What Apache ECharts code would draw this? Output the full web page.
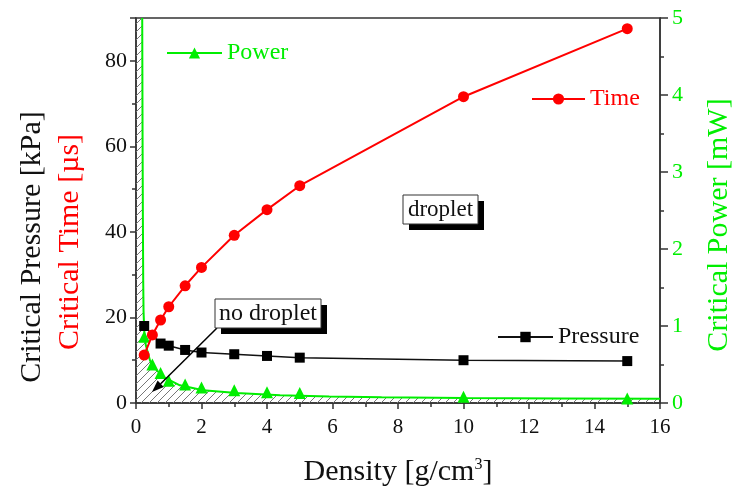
<!DOCTYPE html>
<html>
<head>
<meta charset="utf-8">
<script src="https://cdn.jsdelivr.net/npm/echarts@6/dist/echarts.min.js"></script>
<style>
  html, body { margin: 0; padding: 0; background: #fff; }
  #chart { width: 733px; height: 491px; }
</style>
</head>
<body>
<div id="chart"></div>
<script>
// measured points
var density = [0.25, 0.5, 0.75, 1, 1.5, 2, 3, 4, 5, 10, 15];
var timeUs = [11.2, 15.9, 19.4, 22.5, 27.4, 31.7, 39.2, 45.2, 50.8, 71.6, 87.5];
var powerMW = [0.86, 0.50, 0.39, 0.29, 0.24, 0.20, 0.165, 0.14, 0.13, 0.08, 0.06];
var pressureX = [0.25, 0.75, 1, 1.5, 2, 3, 4, 5, 10, 15];
var pressureKPa = [18.0, 13.9, 13.4, 12.4, 11.8, 11.4, 11.0, 10.6, 10.0, 9.8];

// fitted power curve
var fitX = [0.19, 0.2, 0.21, 0.22, 0.23, 0.25, 0.3, 0.43, 0.6, 0.83, 1.34, 2.05, 3.07, 4.4, 5.9, 7.5, 10, 13, 16];
var fitP = [5.0, 3.5, 2.4, 1.6, 1.2, 0.95, 0.75, 0.55, 0.44, 0.34, 0.23, 0.165, 0.13, 0.10, 0.085, 0.075, 0.065, 0.06, 0.055];

var xTicks = [0, 2, 4, 6, 8, 10, 12, 14, 16];

var GREEN = '#00ee00';
var RED = '#ff0000';
var FONT = '"Liberation Serif", "DejaVu Serif", serif';

function pairs(xs, ys) {
  return xs.map(function (x, i) { return [x, ys[i]]; });
}

var fitData = pairs(fitX, fitP);
var hatchData = [[0, fitP[0]]].concat(fitData);

// diagonal hatch pattern for the "no droplet" region
var pat = document.createElement('canvas');
pat.width = 8; pat.height = 8;
var pc = pat.getContext('2d');
pc.strokeStyle = '#777';
pc.lineWidth = 1;
pc.beginPath();
pc.moveTo(0, 8); pc.lineTo(8, 0);
pc.moveTo(-4, 4); pc.lineTo(4, -4);
pc.moveTo(4, 12); pc.lineTo(12, 4);
pc.stroke();

var chart = echarts.init(document.getElementById('chart'));

var axisCol = '#333';

chart.setOption({
  animation: false,
  grid: {
    left: 136, right: 73, top: 18, bottom: 88,
    show: true, borderColor: axisCol, borderWidth: 1.5
  },
  legend: [
    {
      data: ['Power'], left: 166, top: 41, padding: 0,
      itemWidth: 55, itemHeight: 14,
      textStyle: { color: GREEN, fontSize: 24, fontFamily: FONT }
    },
    {
      data: ['Time'], left: 531, top: 87, padding: 0,
      itemWidth: 53, itemHeight: 14,
      textStyle: { color: RED, fontSize: 24, fontFamily: FONT }
    },
    {
      data: ['Pressure'], left: 497, top: 325, padding: 0,
      itemWidth: 55, itemHeight: 13,
      textStyle: { color: '#111', fontSize: 24, fontFamily: FONT }
    }
  ],
  xAxis: {
    type: 'value', min: 0, max: 16, interval: 2,
    axisLine: { lineStyle: { color: axisCol, width: 1.5 } },
    axisTick: { length: 6, lineStyle: { color: axisCol, width: 1.5 } },
    minorTick: { show: true, splitNumber: 2, length: 4, lineStyle: { color: axisCol, width: 1.5 } },
    splitLine: { show: false },
    axisLabel: {
      color: '#111', fontSize: 21, fontFamily: FONT, margin: 14,
      formatter: function (v) { return xTicks.indexOf(v) >= 0 ? String(v) : ''; }
    }
  },
  yAxis: [
    {
      type: 'value', min: 0, max: 90, interval: 20, position: 'left',
      axisLine: { show: true, lineStyle: { color: axisCol, width: 1.5 } },
      axisTick: { show: true, length: 6, lineStyle: { color: axisCol, width: 1.5 } },
      minorTick: { show: true, splitNumber: 2, length: 4, lineStyle: { color: axisCol, width: 1.5 } },
      splitLine: { show: false },
      axisLabel: { color: '#111', fontSize: 22, fontFamily: FONT, margin: 9, showMaxLabel: false }
    },
    {
      type: 'value', min: 0, max: 5, interval: 1, position: 'right',
      axisLine: { show: true, lineStyle: { color: axisCol, width: 1.5 } },
      axisTick: { show: true, length: 8, lineStyle: { color: axisCol, width: 1.5 } },
      minorTick: { show: true, splitNumber: 2, length: 4, lineStyle: { color: axisCol, width: 1.5 } },
      splitLine: { show: false },
      axisLabel: { color: GREEN, fontSize: 22, fontFamily: FONT, margin: 12 }
    }
  ],
  series: [
    {
      name: 'hatch', type: 'line', yAxisIndex: 1, data: hatchData,
      symbol: 'none', silent: true, z: 1,
      lineStyle: { width: 0, opacity: 0 },
      areaStyle: { color: { image: pat, repeat: 'repeat' }, opacity: 1 }
    },
    {
      name: 'Power', type: 'line', yAxisIndex: 1, data: fitData,
      symbol: 'triangle', showSymbol: false, z: 2,
      itemStyle: { color: GREEN },
      lineStyle: { color: GREEN, width: 2 }
    },
    {
      name: 'Pressure', type: 'line', yAxisIndex: 0, data: pairs(pressureX, pressureKPa),
      symbol: 'rect', symbolSize: 10, z: 3,
      itemStyle: { color: '#000' },
      lineStyle: { color: '#111', width: 1.5 }
    },
    {
      name: 'power points', type: 'line', yAxisIndex: 1, data: pairs(density, powerMW),
      symbol: 'triangle', symbolSize: 12, z: 4,
      itemStyle: { color: GREEN },
      lineStyle: { width: 0, opacity: 0 }
    },
    {
      name: 'Time', type: 'line', yAxisIndex: 0, data: pairs(density, timeUs),
      symbol: 'circle', symbolSize: 11, z: 5,
      itemStyle: { color: RED },
      lineStyle: { color: RED, width: 2 }
    }
  ],
  graphic: [
    // axis titles
    {
      type: 'text', x: 32, y: 247, rotation: Math.PI / 2, z: 100,
      style: { text: 'Critical Pressure [kPa]', fill: '#111', font: '30px ' + FONT, align: 'center', verticalAlign: 'middle' }
    },
    {
      type: 'text', x: 70, y: 242, rotation: Math.PI / 2, z: 100,
      style: { text: 'Critical Time [µs]', fill: RED, font: '30px ' + FONT, align: 'center', verticalAlign: 'middle' }
    },
    {
      type: 'text', x: 719, y: 225, rotation: Math.PI / 2, z: 100,
      style: { text: 'Critical Power [mW]', fill: GREEN, font: '30px ' + FONT, align: 'center', verticalAlign: 'middle' }
    },
    {
      type: 'text', x: 398, y: 472, z: 100,
      style: {
        text: '{a|Density [g/cm}{s|3}{a|]}', align: 'center', verticalAlign: 'middle',
        rich: {
          a: { fontSize: 30, fontFamily: FONT, fill: '#111', color: '#111' },
          s: { fontSize: 16, fontFamily: FONT, fill: '#111', color: '#111', verticalAlign: 'top', padding: [0, 0, 14, 0] }
        }
      }
    },
    // "droplet" label
    { type: 'rect', z: 100, shape: { x: 409, y: 201, width: 75, height: 29 }, style: { fill: '#000' } },
    { type: 'rect', z: 101, shape: { x: 403, y: 195, width: 75, height: 29 }, style: { fill: '#fff', stroke: '#333', lineWidth: 1 } },
    {
      type: 'text', z: 102, x: 440.5, y: 209.5,
      style: { text: 'droplet', fill: '#111', font: '23px ' + FONT, align: 'center', verticalAlign: 'middle' }
    },
    // "no droplet" label with arrow
    { type: 'rect', z: 100, shape: { x: 221, y: 305, width: 106, height: 29 }, style: { fill: '#000' } },
    { type: 'rect', z: 101, shape: { x: 215, y: 299, width: 106, height: 29 }, style: { fill: '#fff', stroke: '#333', lineWidth: 1 } },
    {
      type: 'text', z: 102, x: 268, y: 313.5,
      style: { text: 'no droplet', fill: '#111', font: '24px ' + FONT, align: 'center', verticalAlign: 'middle' }
    },
    { type: 'line', z: 100, shape: { x1: 217, y1: 328, x2: 160.7, y2: 383.7 }, style: { stroke: '#000', lineWidth: 1.5 } },
    { type: 'polygon', z: 100, shape: { points: [[152, 392], [163.8, 387], [157.6, 380.4]] }, style: { fill: '#000' } }
  ]
});
</script>
</body>
</html>
